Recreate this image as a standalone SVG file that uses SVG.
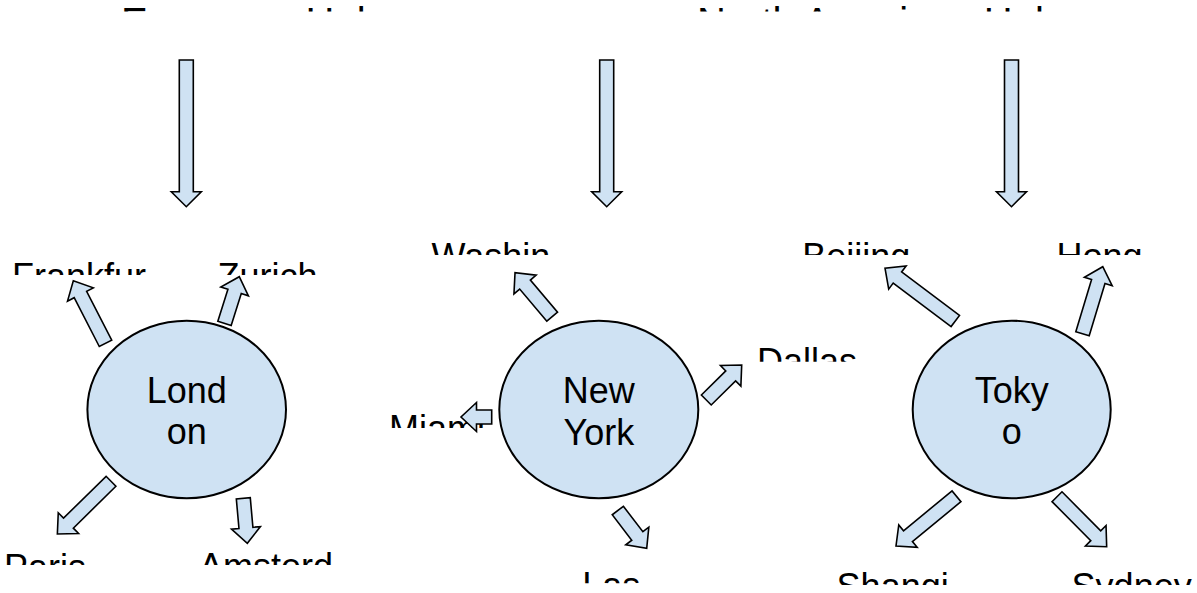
<svg xmlns="http://www.w3.org/2000/svg" width="1197" height="593" viewBox="0 0 1197 593">
  <style>
    .hub { fill: #cfe2f3; stroke: #000; stroke-width: 2; }
    .arrow { fill: #cfe2f3; stroke: #000; stroke-width: 1.6; stroke-linejoin: miter; }
    .lbl { font-family: "Liberation Sans", Arial, sans-serif; font-size: 36px; fill: #000; }
    .ttl { font-family: "Liberation Sans", Arial, sans-serif; font-size: 40px; fill: #000; }
    .mid { text-anchor: middle; }
  </style>
  <defs>
    <!-- fixed-height text boxes: overflowing lines are cut off -->
    <clipPath id="c-title"><rect x="0" y="0" width="1197" height="11.5"/></clipPath>
    <clipPath id="c-row1"><rect x="0" y="230" width="1197" height="45"/></clipPath>
    <clipPath id="c-row1b"><rect x="0" y="230" width="1197" height="25"/></clipPath>
    <clipPath id="c-dallas"><rect x="700" y="330" width="300" height="31.7"/></clipPath>
    <clipPath id="c-miami"><rect x="380" y="400" width="120" height="28"/></clipPath>
    <clipPath id="c-eu-bottom"><rect x="0" y="530" width="400" height="35"/></clipPath>
    <clipPath id="c-las"><rect x="500" y="550" width="250" height="33.3"/></clipPath>
    <clipPath id="c-asia-bottom"><rect x="800" y="550" width="397" height="35"/></clipPath>
  </defs>

  <!-- section headings -->
  <g id="headings" clip-path="url(#c-title)">
    <text class="ttl" x="121" y="36">European Hub</text>
    <text class="ttl" x="697" y="36">North American Hub</text>
  </g>

  <!-- London hub -->
  <g id="london">
    <ellipse class="hub" cx="186.7" cy="409.5" rx="99.3" ry="88.8"/>
    <text class="lbl mid" x="186.7" y="403">Lond</text>
    <text class="lbl mid" x="186.7" y="444">on</text>
  </g>
  <g id="frankfurt" clip-path="url(#c-row1)"><text class="lbl" x="12" y="288.5">Frankfur</text></g>
  <g id="zurich" clip-path="url(#c-row1)"><text class="lbl" x="217.5" y="288.5">Zurich</text></g>
  <g id="paris" clip-path="url(#c-eu-bottom)"><text class="lbl" x="4" y="579.8">Paris</text></g>
  <g id="amsterdam" clip-path="url(#c-eu-bottom)"><text class="lbl" x="199" y="579">Amsterd</text></g>

  <!-- New York hub -->
  <g id="new-york">
    <ellipse class="hub" cx="598.8" cy="409.5" rx="99.5" ry="88.8"/>
    <text class="lbl mid" x="598.8" y="403.3">New</text>
    <text class="lbl mid" x="598.8" y="444.5">York</text>
  </g>
  <g id="washington" clip-path="url(#c-row1b)"><text class="lbl" x="431.5" y="269">Washin</text></g>
  <g id="dallas" clip-path="url(#c-dallas)"><text class="lbl" x="757" y="374">Dallas</text></g>
  <g id="miami" clip-path="url(#c-miami)"><text class="lbl" x="389" y="440.8">Miami</text></g>
  <g id="las-vegas" clip-path="url(#c-las)"><text class="lbl" x="582.3" y="597.5">Las</text></g>

  <!-- Tokyo hub -->
  <g id="tokyo">
    <ellipse class="hub" cx="1011.7" cy="409.5" rx="99" ry="88.8"/>
    <text class="lbl mid" x="1011.7" y="402.5">Toky</text>
    <text class="lbl mid" x="1011.7" y="444">o</text>
  </g>
  <g id="beijing" clip-path="url(#c-row1b)"><text class="lbl" x="802.3" y="269">Beijing</text></g>
  <g id="hong-kong" clip-path="url(#c-row1b)"><text class="lbl" x="1056.5" y="269">Hong</text></g>
  <g id="shanghai" clip-path="url(#c-asia-bottom)"><text class="lbl" x="836.6" y="598.5">Shangi</text></g>
  <g id="sydney" clip-path="url(#c-asia-bottom)"><text class="lbl" x="1071.6" y="598.5">Sydney</text></g>

  <!-- block arrows: drawn pointing +x from the base point, then rotated -->
  <g id="connectors">
    <path class="arrow" transform="translate(186.3,60) rotate(90)" d="M0,-7H131.7V-15L146.7,0L131.7,15V7H0Z"/>
    <path class="arrow" transform="translate(606.7,60) rotate(90)" d="M0,-7H131.7V-15L146.7,0L131.7,15V7H0Z"/>
    <path class="arrow" transform="translate(1011.5,60) rotate(90)" d="M0,-7H131.7V-15L146.7,0L131.7,15V7H0Z"/>

    <path class="arrow" transform="translate(105.5,343.3) rotate(-117.2)" d="M0,-7H54.9V-14.5L70.4,0L54.9,14.5V7H0Z"/>
    <path class="arrow" transform="translate(224.5,323.3) rotate(-72.4)" d="M0,-7H33.4V-14.5L48.9,0L33.4,14.5V7H0Z"/>
    <path class="arrow" transform="translate(111,481.3) rotate(135.5)" d="M0,-7H59.7V-14.5L75.2,0L59.7,14.5V7H0Z"/>
    <path class="arrow" transform="translate(243.3,498.3) rotate(84.9)" d="M0,-7H29.7V-14.5L45.2,0L29.7,14.5V7H0Z"/>

    <path class="arrow" transform="translate(552.2,316.7) rotate(-130.2)" d="M0,-7H42.1V-14.5L57.6,0L42.1,14.5V7H0Z"/>
    <path class="arrow" transform="translate(706.3,400) rotate(-44.7)" d="M0,-7H34.3V-14.5L49.8,0L34.3,14.5V7H0Z"/>
    <path class="arrow" transform="translate(491.7,417) rotate(180)" d="M0,-7H15.2V-14.5L30.7,0L15.2,14.5V7H0Z"/>
    <path class="arrow" transform="translate(617.8,510.5) rotate(52.6)" d="M0,-7H32.1V-14.5L47.6,0L32.1,14.5V7H0Z"/>

    <path class="arrow" transform="translate(955.3,321) rotate(-143.1)" d="M0,-7H72.4V-14.5L87.9,0L72.4,14.5V7H0Z"/>
    <path class="arrow" transform="translate(1082.5,333.8) rotate(-73.2)" d="M0,-7H54.6V-14.5L70.1,0L54.6,14.5V7H0Z"/>
    <path class="arrow" transform="translate(956.5,496.3) rotate(140.6)" d="M0,-7H62.8V-14.5L78.3,0L62.8,14.5V7H0Z"/>
    <path class="arrow" transform="translate(1057,496.7) rotate(45.2)" d="M0,-7H55V-14.5L70.5,0L55,14.5V7H0Z"/>
  </g>
</svg>
